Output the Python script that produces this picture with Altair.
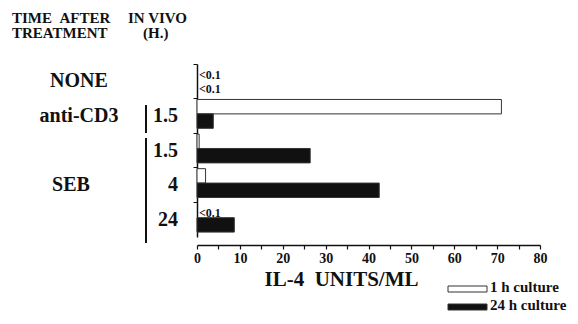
import altair as alt
import pandas as pd

# ---- data ----
rows = ["NONE", "anti-CD3 1.5", "SEB 1.5", "SEB 4", "SEB 24"]
times = ["", "1.5", "1.5", "4", "24"]
cultures = ["1 h culture", "24 h culture"]
culture_colors = ["#ffffff", "#111111"]
il4_1h = [0.0, 71.0, 0.5, 2.0, 0.0]      # 0.0 = "<0.1"
il4_24h = [0.0, 3.8, 26.4, 42.5, 8.7]
below_1h = [True, False, False, False, True]
below_24h = [True, False, False, False, False]
x_ticks = [0, 5, 10, 15, 20, 25, 30, 35, 40, 45, 50, 55, 60, 65, 70, 75, 80]

FONT = "Liberation Serif"
INK = "#111111"

recs = []
for i, r in enumerate(rows):
    recs.append({"row": r, "culture": cultures[0], "value": il4_1h[i],
                 "lab": "<0.1" if below_1h[i] else ""})
    recs.append({"row": r, "culture": cultures[1], "value": il4_24h[i],
                 "lab": "<0.1" if below_24h[i] else ""})
df = pd.DataFrame(recs)

yscale = alt.Scale(domain=rows, paddingInner=0, paddingOuter=0)
yoff_scale = alt.Scale(domain=cultures, paddingInner=0, paddingOuter=0.2, align=0.15)
xscale = alt.Scale(domain=[0, 80], nice=False, zero=True)

base = alt.Chart(df)

bars = base.transform_filter("datum.value > 0").mark_bar(
    stroke="#333333", strokeWidth=1
).encode(
    x=alt.X("value:Q", scale=xscale,
            axis=alt.Axis(values=x_ticks,
                          labelExpr="datum.value % 10 === 0 ? datum.label : ''",
                          title="IL-4\u00a0\u00a0UNITS/ML", titleFont=FONT, titleFontSize=21,
                          titleFontWeight="bold", titleColor=INK,
                          titleX=144, titleY=40, titleAnchor="start", titleAlign="center",
                          titleBaseline="alphabetic",
                          labelFont=FONT, labelFontSize=14, labelFontWeight="bold",
                          labelColor=INK, labelPadding=2, tickSize=4, tickColor=INK,
                          domainColor=INK, domainWidth=1.5, tickWidth=1.2,
                          offset=8, grid=False, labelFlush=False)),
    y=alt.Y("row:N", sort=rows, scale=yscale,
            axis=alt.Axis(labels=False, title=None, tickSize=4, bandPosition=0,
                          domainColor=INK, domainWidth=1.5, tickColor=INK, grid=False)),
    yOffset=alt.YOffset("culture:N", sort=cultures, scale=yoff_scale),
    fill=alt.Fill("culture:N", sort=cultures,
                  scale=alt.Scale(domain=cultures, range=culture_colors),
                  legend=None),
)

lt = base.transform_filter("datum.lab != ''").mark_text(
    align="left", baseline="middle", font=FONT, fontSize=12, fontWeight="bold",
    color=INK, dy=3
).encode(
    x=alt.value(2),
    y=alt.Y("row:N", sort=rows, scale=yscale),
    yOffset=alt.YOffset("culture:N", sort=cultures, scale=yoff_scale),
    text="lab:N",
)

tdf = pd.DataFrame({"row": rows, "t": times})
time_txt = alt.Chart(tdf).transform_filter("datum.t != ''").mark_text(
    align="right", baseline="middle", font=FONT, fontSize=20, fontWeight="bold", color=INK
).encode(x=alt.value(-19), y=alt.Y("row:N", sort=rows, scale=yscale), text="t:N")

gdf = pd.DataFrame({"row": ["NONE", "anti-CD3 1.5"], "g": ["NONE", "anti-CD3"]})
grp_txt = alt.Chart(gdf).mark_text(
    align="center", baseline="middle", font=FONT, fontSize=20, fontWeight="bold", color=INK
).encode(x=alt.value(-118), y=alt.Y("row:N", sort=rows, scale=yscale), text="g:N")

sdf = pd.DataFrame({"row": ["SEB 4"], "g": ["SEB"]})
seb_txt = alt.Chart(sdf).mark_text(
    align="center", baseline="middle", font=FONT, fontSize=20, fontWeight="bold", color=INK
).encode(x=alt.value(-126), y=alt.Y("row:N", sort=rows, scale=yscale), text="g:N")

one = pd.DataFrame({"k": [0]})
def label(txt, x, y, size=15):
    return alt.Chart(one).mark_text(
        align="left", baseline="alphabetic", font=FONT, fontSize=size,
        fontWeight="bold", color=INK
    ).encode(x=alt.value(x), y=alt.value(y), text=alt.value(txt))

hdr = (label("TIME\u00a0\u00a0AFTER", -185, -41) + label("IN VIVO", -69, -41)
       + label("TREATMENT", -185, -26) + label("(H.)", -54, -26))

def vline(y1, y2):
    return alt.Chart(one).mark_rule(color=INK, strokeWidth=2).encode(
        x=alt.value(-51), y=alt.value(y1), y2=alt.value(y2))

lines = vline(41, 69) + vline(74, 179)

# legend (manual, bottom right)
def key(i, ytop):
    box = alt.Chart(one).mark_rect(stroke="#333333", strokeWidth=1).encode(
        x=alt.value(251), x2=alt.value(290), y=alt.value(ytop), y2=alt.value(ytop + 6),
        fill=alt.value(culture_colors[i]))
    txt = label(cultures[i], 293, ytop + 6, size=15)
    return box + txt

legend = key(0, 222) + key(1, 240)

chart = alt.layer(bars, lt, time_txt, grp_txt, seb_txt, hdr, lines, legend).properties(
    width=343, height=173,
    padding={"left": 189, "top": 56, "right": 30, "bottom": 79},
    autosize=alt.AutoSizeParams(type="none"),
).configure(background="white", view=alt.ViewConfig(strokeWidth=0, stroke=None))

chart.save("out.html", embed_options={"renderer": "svg", "actions": False})
